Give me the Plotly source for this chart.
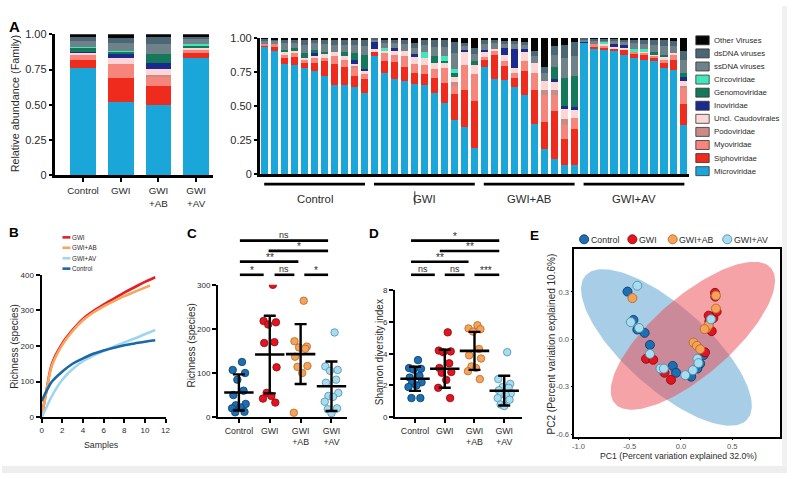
import numpy as np
import plotly.graph_objects as go

W, H = 792, 479
REG = "Liberation Sans, Arial, sans-serif"
NAR = REG
TXT = "#2b2b2b"

# ---------------- DATA ----------------
families = ["Microviridae", "Siphoviridae", "Myoviridae", "Podoviridae", "Uncl. Caudovirales",
            "Inoviridae", "Genomoviridae", "Circoviridae", "ssDNA viruses", "dsDNA viruses", "Other Viruses"]
fam_colors = ["#1aa6d8", "#ee2b1c", "#f6857b", "#c98c89", "#fdd6d6",
              "#1b2a8c", "#13795a", "#43e6b9", "#6f8289", "#4b6674", "#050505"]

group_names = ["Control", "GWI", "GWI+AB", "GWI+AV"]
group_ticks = ["Control", "GWI", "GWI<br>+AB", "GWI<br>+AV"]
samples_per_group = [11, 11, 10, 11]

# Panel A (left): mean relative abundance per group
grp_micro = [0.758, 0.521, 0.502, 0.832]
grp_sipho = [0.062, 0.168, 0.134, 0.035]
grp_myo = [0.030, 0.097, 0.065, 0.023]
grp_podo = [0.0, 0.0, 0.012, 0.0]
grp_uncl = [0.016, 0.046, 0.039, 0.012]
grp_ino = [0.005, 0.025, 0.046, 0.005]
grp_genomo = [0.035, 0.018, 0.062, 0.008]
grp_circo = [0.005, 0.007, 0.0, 0.016]
grp_ssdna = [0.044, 0.055, 0.071, 0.032]
grp_dsdna = [0.030, 0.037, 0.047, 0.021]
grp_other = [0.014, 0.027, 0.023, 0.018]

# Panel A (right): per sample relative abundance (Control 11, GWI 11, GWI+AB 10, GWI+AV 11)
smp_micro = [0.936, 0.905, 0.81, 0.805, 0.78, 0.76, 0.72, 0.657, 0.652, 0.643, 0.595,
             0.864, 0.745, 0.70, 0.686, 0.662, 0.657, 0.595, 0.526, 0.40, 0.345, 0.19,
             0.79, 0.70, 0.69, 0.638, 0.583, 0.371, 0.186, 0.11, 0.07, 0.067,
             0.96, 0.924, 0.919, 0.91, 0.876, 0.852, 0.84, 0.833, 0.78, 0.762, 0.364]
smp_sipho = [0.012, 0.031, 0.043, 0.055, 0.036, 0.055, 0.107, 0.152, 0.133, 0.079, 0.102,
             0.036, 0.083, 0.126, 0.10, 0.083, 0.076, 0.114, 0.14, 0.19, 0.274, 0.348,
             0.048, 0.176, 0.102, 0.067, 0.174, 0.248, 0.195, 0.357, 0.186, 0.262,
             0.0, 0.012, 0.01, 0.014, 0.036, 0.036, 0.031, 0.024, 0.036, 0.079, 0.155]
smp_myo = [0.005, 0.017, 0.029, 0.029, 0.024, 0.04, 0.029, 0.06, 0.055, 0.06, 0.036,
           0.0, 0.06, 0.048, 0.079, 0.064, 0.071, 0.06, 0.114, 0.06, 0.186, 0.195,
           0.024, 0.029, 0.036, 0.04, 0.071, 0.126, 0.198, 0.112, 0.107, 0.083,
           0.0, 0.017, 0.019, 0.0, 0.0, 0.012, 0.024, 0.014, 0.024, 0.036, 0.119]
smp_podo = [0, 0, 0, 0, 0, 0, 0, 0, 0, 0.012, 0,
            0, 0, 0, 0, 0, 0, 0, 0, 0.024, 0, 0,
            0, 0, 0, 0, 0, 0, 0.036, 0.036, 0.04, 0,
            0, 0, 0, 0, 0, 0, 0, 0, 0, 0, 0.012]
smp_uncl = [0.0, 0.0, 0.014, 0.017, 0.012, 0.019, 0.024, 0.026, 0.024, 0.015, 0.029,
            0.019, 0.017, 0.029, 0.036, 0.048, 0.048, 0.048, 0.036, 0.036, 0.095, 0.071,
            0.036, 0.014, 0.048, 0.031, 0.071, 0.071, 0.071, 0.06, 0.079, 0.06,
            0.0, 0.0, 0.01, 0.01, 0.017, 0.0, 0.005, 0.005, 0.017, 0.012, 0.036]
smp_ino = [0, 0, 0, 0, 0, 0.014, 0, 0, 0, 0.031, 0.01,
           0.052, 0, 0.024, 0, 0.024, 0, 0, 0, 0, 0.012, 0,
           0.012, 0, 0.048, 0.143, 0.019, 0, 0, 0.024, 0.017, 0.019,
           0.017, 0, 0, 0.019, 0.017, 0, 0, 0, 0, 0, 0.024]
smp_genomo = [0, 0, 0.017, 0.019, 0.036, 0.024, 0.019, 0, 0.036, 0.048, 0.10,
              0, 0, 0, 0, 0, 0, 0.048, 0.017, 0.031, 0, 0.024,
              0, 0, 0, 0, 0, 0, 0, 0.088, 0.21, 0.231,
              0, 0, 0, 0, 0, 0, 0, 0.024, 0.019, 0, 0.036]
smp_circo = [0, 0, 0, 0, 0, 0, 0, 0, 0, 0, 0,
             0, 0.019, 0, 0, 0, 0.048, 0, 0.031, 0.029, 0, 0,
             0, 0, 0, 0, 0, 0, 0, 0, 0, 0,
             0, 0, 0.01, 0, 0, 0.019, 0.019, 0, 0, 0, 0]
smp_ssdna = [0.026, 0.023, 0.047, 0.040, 0.061, 0.047, 0.054, 0.053, 0.050, 0.061, 0.071,
             0.017, 0.040, 0.037, 0.054, 0.047, 0.050, 0.071, 0.071, 0.120, 0.029, 0.057,
             0.047, 0.043, 0.031, 0.034, 0.031, 0.053, 0.060, 0.090, 0.143, 0.147,
             0.014, 0.026, 0.017, 0.026, 0.026, 0.043, 0.038, 0.050, 0.064, 0.053, 0.093]
smp_dsdna = [0.017, 0.015, 0.032, 0.027, 0.041, 0.031, 0.036, 0.035, 0.033, 0.041, 0.047,
             0.012, 0.027, 0.025, 0.036, 0.032, 0.033, 0.048, 0.048, 0.080, 0.019, 0.038,
             0.032, 0.028, 0.021, 0.023, 0.021, 0.035, 0.040, 0.060, 0.095, 0.098,
             0.010, 0.017, 0.012, 0.017, 0.017, 0.028, 0.026, 0.033, 0.043, 0.035, 0.062]
smp_other = [0.004, 0.01, 0.01, 0.01, 0.01, 0.01, 0.01, 0.017, 0.017, 0.01, 0.01,
             0.0, 0.01, 0.01, 0.01, 0.04, 0.017, 0.017, 0.017, 0.029, 0.04, 0.076,
             0.01, 0.01, 0.024, 0.024, 0.029, 0.095, 0.214, 0.064, 0.052, 0.033,
             0.0, 0.005, 0.003, 0.005, 0.01, 0.01, 0.017, 0.017, 0.017, 0.024, 0.10]

grp_abund = [grp_micro, grp_sipho, grp_myo, grp_podo, grp_uncl, grp_ino, grp_genomo,
             grp_circo, grp_ssdna, grp_dsdna, grp_other]
smp_abund = [smp_micro, smp_sipho, smp_myo, smp_podo, smp_uncl, smp_ino, smp_genomo,
             smp_circo, smp_ssdna, smp_dsdna, smp_other]

# Panel B: rarefaction curves
rare_x = [0, 0.5, 1, 2, 3, 4, 5, 6, 7, 8, 9, 10, 11]
rare_x_ab = [0, 0.5, 1, 2, 3, 4, 5, 6, 7, 8, 9, 10, 10.5]
rare_gwi = [0, 80, 150, 207, 245, 276, 298, 316, 333, 350, 365, 380, 393]
rare_ab = [0, 78, 145, 203, 242, 272, 294, 311, 326, 340, 352, 364, 370]
rare_av = [0, 30, 60, 105, 135, 157, 173, 186, 198, 210, 221, 233, 245]
rare_ctrl = [45, 75, 100, 128, 150, 165, 178, 187, 195, 202, 207, 212, 216]

# Panel C: richness
rich_ctrl = [125, 107, 100, 85, 60, 50, 30, 27, 22, 20, 12, 11]
rich_gwi = [300, 218, 215, 210, 170, 168, 113, 55, 48, 42, 33]
rich_ab = [264, 172, 160, 158, 155, 137, 116, 114, 100, 10]
rich_av = [192, 115, 107, 105, 85, 78, 55, 48, 46, 35, 20, 18, 9]
rich_mean = [56, 142, 143, 70]
rich_sd = [41, 88, 68, 56]

# Panel D: Shannon diversity
shan_ctrl = [3.6, 3.1, 3.05, 3.0, 2.6, 2.5, 2.2, 2.15, 2.0, 1.9, 1.2, 1.2]
shan_gwi = [5.35, 4.2, 4.15, 4.1, 3.4, 3.1, 2.85, 2.8, 2.35, 1.85, 1.2]
shan_ab = [5.8, 5.6, 5.55, 5.4, 4.3, 3.9, 3.7, 3.2, 3.1, 2.9, 2.4]
shan_av = [4.1, 2.4, 2.1, 1.9, 1.85, 1.7, 1.5, 1.45, 1.4, 1.2, 1.1, 0.8, 0.7]
shan_mean = [2.42, 3.05, 4.18, 1.67]
shan_sd = [0.76, 1.2, 1.2, 0.94]

# Panel E: PCoA coordinates
pc_ctrl_x = [-0.522, -0.464, -0.426, -0.355, -0.303, -0.08, -0.048, 0.10, 0.187, 0.16, 0.22]
pc_ctrl_y = [0.302, 0.123, 0.062, 0.041, -0.035, -0.168, -0.211, -0.236, -0.154, -0.185, -0.10]
pc_gwi_x = [-0.341, -0.271, -0.161, -0.097, 0.235, 0.332, 0.335, 0.316, 0.277, 0.30, 0.348, 0.27]
pc_gwi_y = [-0.123, -0.129, -0.211, -0.256, -0.082, 0.294, 0.27, 0.134, 0.113, 0.052, 0.175, 0.15]
pc_ab_x = [-0.474, 0.123, 0.155, 0.187, 0.341, 0.341, 0.251, 0.27, 0.23]
pc_ab_y = [0.261, -0.02, -0.041, -0.062, 0.277, 0.195, 0.072, 0.09, 0.065]
pc_av_x = [-0.426, -0.49, -0.409, -0.303, -0.2, -0.167, 0.042, 0.116, 0.161, 0.293, 0.17]
pc_av_y = [0.339, 0.109, 0.072, -0.092, -0.185, -0.185, -0.226, -0.195, -0.123, 0.127, -0.15]

# ---------------- helpers ----------------
def P(x):
    return x / W

def Q(y):
    return 1 - y / H

fig = go.Figure()
shapes, annos = [], []

def text(x, y, s, size=10, font=NAR, color=TXT, xanchor="center", yanchor="middle", angle=0, **kw):
    annos.append(dict(x=P(x), y=Q(y), xref="paper", yref="paper", text=s, showarrow=False,
                      font=dict(family=font, size=size, color=color), xanchor=xanchor,
                      yanchor=yanchor, textangle=angle, borderpad=0, **kw))

def hline(x0, x1, y, width=2.5, color="black"):
    shapes.append(dict(type="line", xref="paper", yref="paper", x0=P(x0), x1=P(x1), y0=Q(y), y1=Q(y),
                       line=dict(color=color, width=width)))

# ---------------- Panel A ----------------
for fam, col, gv, sv in zip(families, fam_colors, grp_abund, smp_abund):
    fig.add_trace(go.Bar(x=list(range(4)), y=gv, width=0.68, marker=dict(color=col, line_width=0),
                         xaxis="x", yaxis="y", showlegend=False, name=fam))
    fig.add_trace(go.Bar(x=list(range(len(sv))), y=sv, width=0.72, marker=dict(color=col, line_width=0),
                         xaxis="x2", yaxis="y2", showlegend=False, name=fam))

# legend A
leg_y0, leg_dy = 35.2, 13.42
for i, (fam, col) in enumerate(zip(families[::-1], fam_colors[::-1])):
    yy = leg_y0 + i * leg_dy
    shapes.append(dict(type="rect", xref="paper", yref="paper", x0=P(700), x1=P(713.5),
                       y0=Q(yy - 4.6), y1=Q(yy + 4.6), fillcolor=col, line=dict(color="#333", width=0.8)))
    text(717.5, yy, fam, size=7.8, xanchor="left")

# group underlines + labels (right part of A)
start = 0
for g, n in zip(group_names, samples_per_group):
    shapes.append(dict(type="line", xref="x2", yref="paper", x0=start - 0.05, x1=start + n - 1 + 0.05,
                       y0=Q(182.7), y1=Q(182.7), line=dict(color="black", width=2.6)))
    annos.append(dict(x=start + (n - 1) / 2, y=Q(197.5), xref="x2", yref="paper", text=g, showarrow=False,
                      font=dict(family=NAR, size=11.3, color=TXT), xanchor="center", yanchor="middle"))
    start += n
shapes.append(dict(type="line", xref="paper", yref="paper", x0=P(416.5), x1=P(416.5), y0=Q(190), y1=Q(204),
                   line=dict(color="#333", width=1)))

text(14, 100, "Relative abundance (Family)", size=10.8, font=REG, angle=-90)

# ---------------- Panel B ----------------
b_colors = ["#e61e27", "#f6a55d", "#9fd5ee", "#1b68a8"]
b_names = ["GWI", "GWI+AB", "GWI+AV", "Control"]
for xs, ys, c, nm in [(rare_x, rare_gwi, b_colors[0], "GWI"), (rare_x_ab, rare_ab, b_colors[1], "GWI+AB"),
                      (rare_x, rare_av, b_colors[2], "GWI+AV"), (rare_x, rare_ctrl, b_colors[3], "Control")]:
    fig.add_trace(go.Scatter(x=xs, y=ys, mode="lines", line=dict(color=c, width=2.6, shape="spline", smoothing=1.0),
                             xaxis="x3", yaxis="y3", showlegend=False, name=nm))
for i, (nm, c) in enumerate(zip(b_names, b_colors)):
    yy = 237.3 + i * 10.7
    hline(61, 69, yy, width=2.6, color=c)
    text(70, yy, nm, size=6.3, xanchor="left")
text(12.5, 349, "Richness (species)", size=10, font=REG, angle=-90)
text(100, 450, "Samples", size=8.8)

# ---------------- Panels C & D ----------------
pt_fill = ["#1c6fb3", "#e3141f", "#f5a25a", "#a8dcef"]
pt_line = ["#0d3d66", "#8a0c12", "#b56a2a", "#4f8fae"]
JIT = [0.1, -0.2, 0.2, -0.05, 0.15, -0.18, 0.22, -0.1, 0.05, -0.22, 0.18, -0.12, 0.0]

def dot_panel(groups, means, sds, xa, ya):
    for gi, vals in enumerate(groups):
        xs = [gi + JIT[k % len(JIT)] for k in range(len(vals))]
        fig.add_trace(go.Scatter(x=xs, y=vals, mode="markers", xaxis=xa, yaxis=ya, showlegend=False,
                                 marker=dict(size=7.5, color=pt_fill[gi], line=dict(color=pt_line[gi], width=0.8))))
    fig.add_trace(go.Scatter(x=list(range(4)), y=means, mode="markers", xaxis=xa, yaxis=ya, showlegend=False,
                             marker=dict(symbol="line-ew", size=21, line=dict(color="black", width=2.6)),
                             error_y=dict(type="data", array=sds, visible=True, color="black",
                                          thickness=2.4, width=6)))

dot_panel([rich_ctrl, rich_gwi, rich_ab, rich_av], rich_mean, rich_sd, "x4", "y4")
dot_panel([shan_ctrl, shan_gwi, shan_ab, shan_av], shan_mean, shan_sd, "x5", "y5")

text(191, 348, "Richness (species)", size=10, font=REG, angle=-90)
text(380.5, 355, "Shannon diversity index", size=10, font=REG, angle=-90)

def bracket(x0, x1, y, label, tx, star):
    hline(x0, x1, y, width=2.6)
    text(tx, y - 0.8, label, size=10 if star else 9, yanchor="bottom", yshift=(-3 if star else -1))

# C brackets
bracket(240, 329, 240.7, "ns", 285, False)
bracket(269, 329, 251.2, "*", 300, True)
bracket(240, 299, 262.2, "**", 270, True)
bracket(240, 264, 275.7, "*", 252, True)
bracket(275, 295, 275.7, "ns", 285, False)
bracket(305, 329, 275.7, "*", 317, True)
# D brackets
bracket(412.7, 501.7, 240.7, "*", 457.3, True)
bracket(441.7, 501.7, 251.3, "**", 471.7, True)
bracket(412.7, 470.7, 262.3, "**", 441.7, True)
bracket(412.7, 436.7, 275.7, "ns", 425, False)
bracket(446.7, 466.7, 275.7, "ns", 456.7, False)
bracket(476.7, 501.7, 275.7, "***", 488.3, True)

# ---------------- Panel E ----------------
ex_rng = [-1.048, 0.967]
ey_rng = [-0.615, 0.571]
ex_dom = [576.7, 785.0]
ey_dom = [441.7, 249.3]
sx = (ex_dom[1] - ex_dom[0]) / (ex_rng[1] - ex_rng[0])
sy = (ey_dom[0] - ey_dom[1]) / (ey_rng[1] - ey_rng[0])

def ellipse(cx, cy, a_px, b_px, ang_deg, color):
    t = np.linspace(0, 2 * np.pi, 160)
    th = np.deg2rad(ang_deg)
    u, v = a_px * np.cos(t), b_px * np.sin(t)
    xs = cx + (u * np.cos(th) - v * np.sin(th)) / sx
    ys = cy + (u * np.sin(th) + v * np.cos(th)) / sy
    fig.add_trace(go.Scatter(x=xs, y=ys, mode="lines", fill="toself", fillcolor=color,
                             line=dict(width=0), xaxis="x6", yaxis="y6", showlegend=False, hoverinfo="skip"))

ellipse(-0.142, -0.051, 110, 42, -42.3, "rgba(82,155,205,0.5)")
ellipse(0.116, 0.023, 105, 40, 41.6, "rgba(236,72,78,0.5)")

for xs, ys, gi in [(pc_ctrl_x, pc_ctrl_y, 0), (pc_gwi_x, pc_gwi_y, 1), (pc_ab_x, pc_ab_y, 2), (pc_av_x, pc_av_y, 3)]:
    fig.add_trace(go.Scatter(x=xs, y=ys, mode="markers", xaxis="x6", yaxis="y6", showlegend=False,
                             marker=dict(size=9, color=pt_fill[gi], line=dict(color=pt_line[gi], width=0.9))))

for cx, nm, gi in [(587.3, "Control", 0), (636, "GWI", 1), (676.7, "GWI+AB", 2), (731.7, "GWI+AV", 3)]:
    shapes.append(dict(type="circle", xref="paper", yref="paper", x0=P(cx - 4.6), x1=P(cx + 4.6),
                       y0=Q(239.3 + 4.6), y1=Q(239.3 - 4.6), fillcolor=pt_fill[gi],
                       line=dict(color=pt_line[gi], width=0.9)))
    text(cx + 5.5, 239.6, nm, size=8.8, xanchor="left")

text(554, 347, "PC2 (Percent variation explained 10.6%)", size=10, font=REG, angle=-90)
text(683, 461.5, "PC1 (Percent variation explained 32.0%)", size=8.7)

# panel letters
for lt, x, y, s in [("A", 13, 21, 15), ("B", 12, 232, 13.5), ("C", 192, 233, 13.5),
                    ("D", 375, 233, 13.5), ("E", 537, 235, 13.5)]:
    text(x, y, "<b>%s</b>" % lt, size=s, font=REG, color="black")

# light frame strips
shapes.append(dict(type="rect", xref="paper", yref="paper", x0=0, x1=1, y0=0, y1=Q(471.5),
                   fillcolor="#eeeeee", line_width=0, layer="below"))
shapes.append(dict(type="rect", xref="paper", yref="paper", x0=P(787), x1=1, y0=Q(471.5), y1=1,
                   fillcolor="#f1f1f1", line_width=0, layer="below"))

# ---------------- axes ----------------
def ax(dom, rng, **kw):
    d = dict(domain=dom, range=rng, showline=True, linecolor="black", linewidth=2.5, ticks="outside",
             ticklen=4, tickwidth=2, tickcolor="black", showgrid=False, zeroline=False,
             tickfont=dict(family=REG, size=8, color=TXT), fixedrange=True)
    d.update(kw)
    return d

layout_axes = dict(
    xaxis=ax([P(53), P(213)], [-0.755, 3.45], tickvals=list(range(4)), ticktext=group_ticks,
             tickfont=dict(family=NAR, size=9.8, color=TXT), anchor="y", ticklen=4),
    yaxis=ax([Q(173.7), Q(29)], [0, 1.0], tickvals=[0, 0.25, 0.5, 0.75, 1.0],
             ticktext=["0", "0.25", "0.50", "0.75", "1.00"], tickfont=dict(family=REG, size=11, color=TXT),
             anchor="x", ticklen=3),
    xaxis2=ax([P(260), P(693)], [-0.5, 42.5], showticklabels=False, ticks="", anchor="y2"),
    yaxis2=ax([Q(172.7), Q(32.7)], [0, 1.0], tickvals=[0, 0.25, 0.5, 0.75, 1.0],
              ticktext=["0", "0.25", "0.50", "0.75", "1.00"], tickfont=dict(family=REG, size=11, color=TXT),
              anchor="x2", ticklen=3),
    xaxis3=ax([P(40), P(165)], [0, 12], tickvals=list(range(0, 13, 2)), anchor="y3", linewidth=2.2),
    yaxis3=ax([Q(421.7), Q(275.7)], [0, 400], tickvals=[0, 100, 200, 300, 400], anchor="x3", linewidth=2.2),
    xaxis4=ax([P(218), P(348)], [-0.675, 3.5], tickvals=list(range(4)), ticktext=group_ticks,
              tickfont=dict(family=NAR, size=8.8, color=TXT), anchor="y4", linewidth=2.2),
    yaxis4=ax([Q(421.7), Q(286)], [0, 300], tickvals=[0, 100, 200, 300], anchor="x4", linewidth=2.2),
    xaxis5=ax([P(396.7), P(525)], [-0.667, 3.61], tickvals=list(range(4)), ticktext=group_ticks,
              tickfont=dict(family=NAR, size=8.8, color=TXT), anchor="y5", linewidth=2.2),
    yaxis5=ax([Q(421.7), Q(291.7)], [0, 8], tickvals=[0, 2, 4, 6, 8], anchor="x5", linewidth=2.2),
    xaxis6=ax([P(ex_dom[0]), P(ex_dom[1])], ex_rng, tickvals=[-1, -0.5, 0, 0.5],
              ticktext=["-1.0", "-0.5", "0.0", "0.5"], mirror=True, linewidth=2, ticklen=1, tickwidth=1,
              tickfont=dict(family=REG, size=7.6, color="#555"), anchor="y6"),
    yaxis6=ax([Q(ey_dom[0]), Q(ey_dom[1])], ey_rng, tickvals=[-0.6, -0.3, 0, 0.3],
              ticktext=["-0.6", "-0.3", "0.0", "0.3"], mirror=True, linewidth=2, ticklen=1, tickwidth=1,
              tickfont=dict(family=REG, size=7.6, color="#555"), anchor="x6"),
)

fig.update_layout(width=W, height=H, margin=dict(l=0, r=0, t=0, b=0), autosize=False,
                  paper_bgcolor="white", plot_bgcolor="rgba(0,0,0,0)", barmode="stack",
                  shapes=shapes, annotations=annos, showlegend=False, **layout_axes)

fig.write_html("out.html", config={"displayModeBar": False},
               post_script="document.body.style.margin='0';document.body.style.overflow='hidden';")
